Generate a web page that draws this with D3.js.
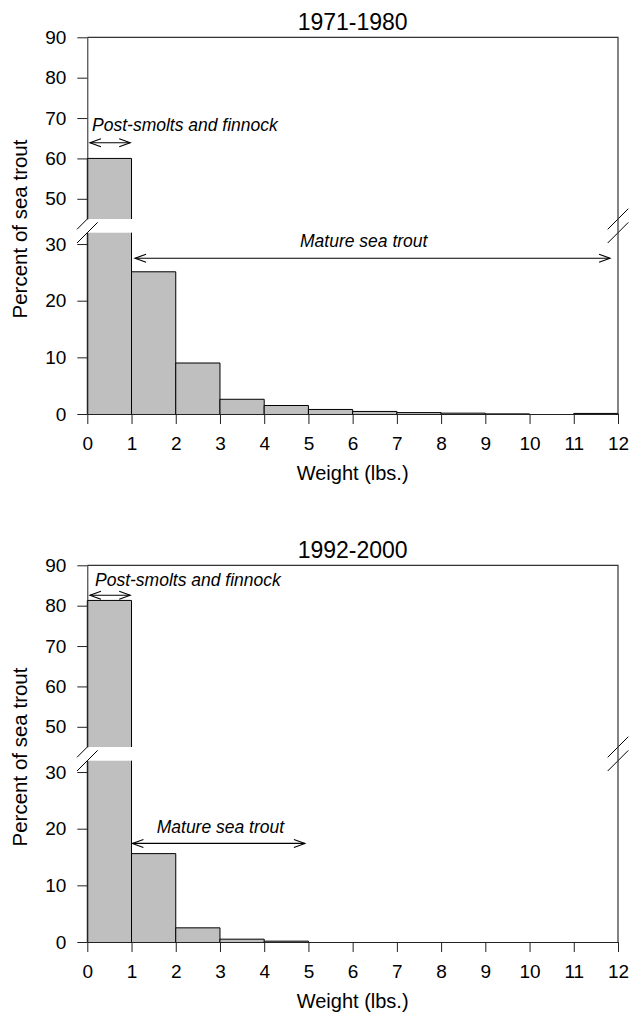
<!DOCTYPE html>
<html>
<head>
<meta charset="utf-8">
<script src="https://cdn.jsdelivr.net/npm/d3@7"></script>
<style>
  body { margin: 0; background: #fff; }
  svg text { font-family: "Liberation Sans", Arial, Helvetica, sans-serif; fill: #000; }
</style>
</head>
<body>
<div id="chart"></div>
<script>
// weight classes (lbs.) and percent of sea trout in each class
const binEdges = [0, 1, 2, 3, 4, 5, 6, 7, 8, 9, 10, 11, 12];
const xTicks = [0, 1, 2, 3, 4, 5, 6, 7, 8, 9, 10, 11, 12];
const pct1971 = [60, 25.1, 9.0, 2.6, 1.5, 0.8, 0.45, 0.25, 0.15, 0.02, 0, 0.1];
const pct1992 = [81.3, 15.6, 2.5, 0.5, 0.15, 0, 0, 0, 0, 0, 0, 0];
const yTicksUpper = [50, 60, 70, 80, 90];
const yTicksLower = [0, 10, 20, 30];
const periods = ["1971-1980", "1992-2000"];
const xLabel = "Weight (lbs.)";
const yLabel = "Percent of sea trout";
const smoltLabel = "Post-smolts and finnock";
const matureLabel = "Mature sea trout";

// annotation anchors in data units (x in lbs, y in percent)
const smoltArrow1971 = { x0: 0.06, x1: 0.97, y: 63.9, tx: 0.107, ty: 66.9 };
const matureArrow1971 = { x0: 1.08, x1: 11.82, y: 27.5, tx: 4.81, ty: 29.5 };
const smoltArrow1992 = { x0: 0.06, x1: 0.97, y: 82.6, tx: 0.174, ty: 84.75 };
const matureArrow1992 = { x0: 1.02, x1: 4.92, y: 17.4, tx: 1.57, ty: 19.3 };

const W = 630, H = 1012;
const svg = d3.select("#chart").append("svg")
    .attr("width", W)
    .attr("height", H);

const x = d3.scaleLinear().domain([0, 12]).range([87.3, 618]);
// broken y axis: two linear pieces
const yUpper = d3.scaleLinear().domain([45, 90]).range([219, 37.3]);
const yLower = d3.scaleLinear().domain([0, 32]).range([414, 232.7]);
const breakLo = 32, breakHi = 45;

const panels = [
    { title: periods[0], values: pct1971, smolt: smoltArrow1971, mature: matureArrow1971, oy: 0 },
    { title: periods[1], values: pct1992, smolt: smoltArrow1992, mature: matureArrow1992, oy: 528 }
];

// value -> pixel, choosing the right piece of the axis
function yPos(v, piece) {
    return piece === "upper" ? yUpper(v) : yLower(v);
}

function drawArrow(g, a, piece) {
    const yy = yPos(a.y, piece);
    const x0 = x(a.x0), x1 = x(a.x1);
    const hl = 11, hw = 4;
    g.append("line")
        .attr("x1", x0).attr("x2", x1)
        .attr("y1", yy).attr("y2", yy)
        .attr("stroke", "#000").attr("stroke-width", 1.1);
    g.append("path")
        .attr("d", `M${x0 + hl},${yy - hw}L${x0},${yy}L${x0 + hl},${yy + hw}`)
        .attr("fill", "none").attr("stroke", "#000").attr("stroke-width", 1.1);
    g.append("path")
        .attr("d", `M${x1 - hl},${yy - hw}L${x1},${yy}L${x1 - hl},${yy + hw}`)
        .attr("fill", "none").attr("stroke", "#000").attr("stroke-width", 1.1);
}

panels.forEach(p => {
    const g = svg.append("g").attr("transform", `translate(0,${p.oy})`);

    // break marks (drawn first, bars cover part of them)
    const slashes = [yUpper(breakHi), yLower(breakLo)];
    [x(0), x(12)].forEach(cx => {
        slashes.forEach(cy => {
            g.append("line")
                .attr("x1", cx - 10.3).attr("y1", cy + 10.3)
                .attr("x2", cx + 10.3).attr("y2", cy - 10.3)
                .attr("stroke", "#000").attr("stroke-width", 1);
        });
    });

    const bars = p.values.map((v, i) => ({ x0: binEdges[i], x1: binEdges[i + 1], v }));

    bars.forEach(d => {
        const top = Math.min(d.v, breakLo);
        const bx0 = x(d.x0), bx1 = x(d.x1);
        // lower piece
        g.append("rect")
            .attr("x", bx0).attr("width", bx1 - bx0)
            .attr("y", yLower(top)).attr("height", yLower(0) - yLower(top))
            .attr("fill", "#bfbfbf");
        if (d.v > breakLo) {
            g.append("path")
                .attr("d", `M${bx0},${yLower(0)}V${yLower(breakLo)}M${bx1},${yLower(0)}V${yLower(breakLo)}`)
                .attr("stroke", "#000").attr("fill", "none");
        } else if (d.v > 0) {
            g.append("path")
                .attr("d", `M${bx0},${yLower(0)}V${yLower(top)}H${bx1}V${yLower(0)}`)
                .attr("stroke", "#000").attr("fill", "none").attr("stroke-width", 1);
        }
        // upper piece
        if (d.v > breakHi) {
            g.append("rect")
                .attr("x", bx0).attr("width", bx1 - bx0)
                .attr("y", yUpper(d.v)).attr("height", yUpper(breakHi) - yUpper(d.v))
                .attr("fill", "#bfbfbf");
            g.append("path")
                .attr("d", `M${bx0},${yUpper(breakHi)}V${yUpper(d.v)}H${bx1}V${yUpper(breakHi)}`)
                .attr("stroke", "#000").attr("fill", "none");
        }
    });

    // axes
    const axUp = g.append("g")
        .attr("transform", `translate(${x(0)},0)`)
        .call(d3.axisLeft(yUpper).tickValues(yTicksUpper).tickSize(10).tickSizeOuter(0).tickPadding(11));
    const axLo = g.append("g")
        .attr("transform", `translate(${x(0)},0)`)
        .call(d3.axisLeft(yLower).tickValues(yTicksLower).tickSize(10).tickSizeOuter(0).tickPadding(11));
    const axX = g.append("g")
        .attr("transform", `translate(0,${yLower(0)})`)
        .call(d3.axisBottom(x).tickValues(xTicks).tickSize(10).tickSizeOuter(0).tickPadding(13));

    [axUp, axLo, axX].forEach(ax => {
        ax.selectAll("text").style("font-size", "19px").attr("fill", "#000");
        ax.selectAll("line").attr("stroke", "#222");
        ax.select(".domain").attr("stroke", "#222");
    });

    // box top and right side
    g.append("path")
        .attr("d", `M${x(0)},${yUpper(90)}H${x(12)}V${yLower(0)}`)
        .attr("fill", "none").attr("stroke", "#333").attr("stroke-width", 1.2);

    // title
    g.append("text")
        .attr("x", (x(0) + x(12)) / 2).attr("y", 30)
        .attr("text-anchor", "middle")
        .style("font-size", "23px")
        .text(p.title);

    // axis titles
    g.append("text")
        .attr("x", (x(0) + x(12)) / 2).attr("y", 480)
        .attr("text-anchor", "middle")
        .style("font-size", "20px")
        .text(xLabel);
    g.append("text")
        .attr("transform", `translate(26.5,229) rotate(-90)`)
        .attr("text-anchor", "middle")
        .style("font-size", "20.5px")
        .text(yLabel);

    // annotations
    drawArrow(g, p.smolt, "upper");
    g.append("text")
        .attr("x", x(p.smolt.tx)).attr("y", yUpper(p.smolt.ty))
        .style("font-size", "17.5px").style("font-style", "italic")
        .text(smoltLabel);
    drawArrow(g, p.mature, "lower");
    g.append("text")
        .attr("x", x(p.mature.tx)).attr("y", yLower(p.mature.ty))
        .style("font-size", "17.5px").style("font-style", "italic")
        .text(matureLabel);
});
</script>
</body>
</html>
